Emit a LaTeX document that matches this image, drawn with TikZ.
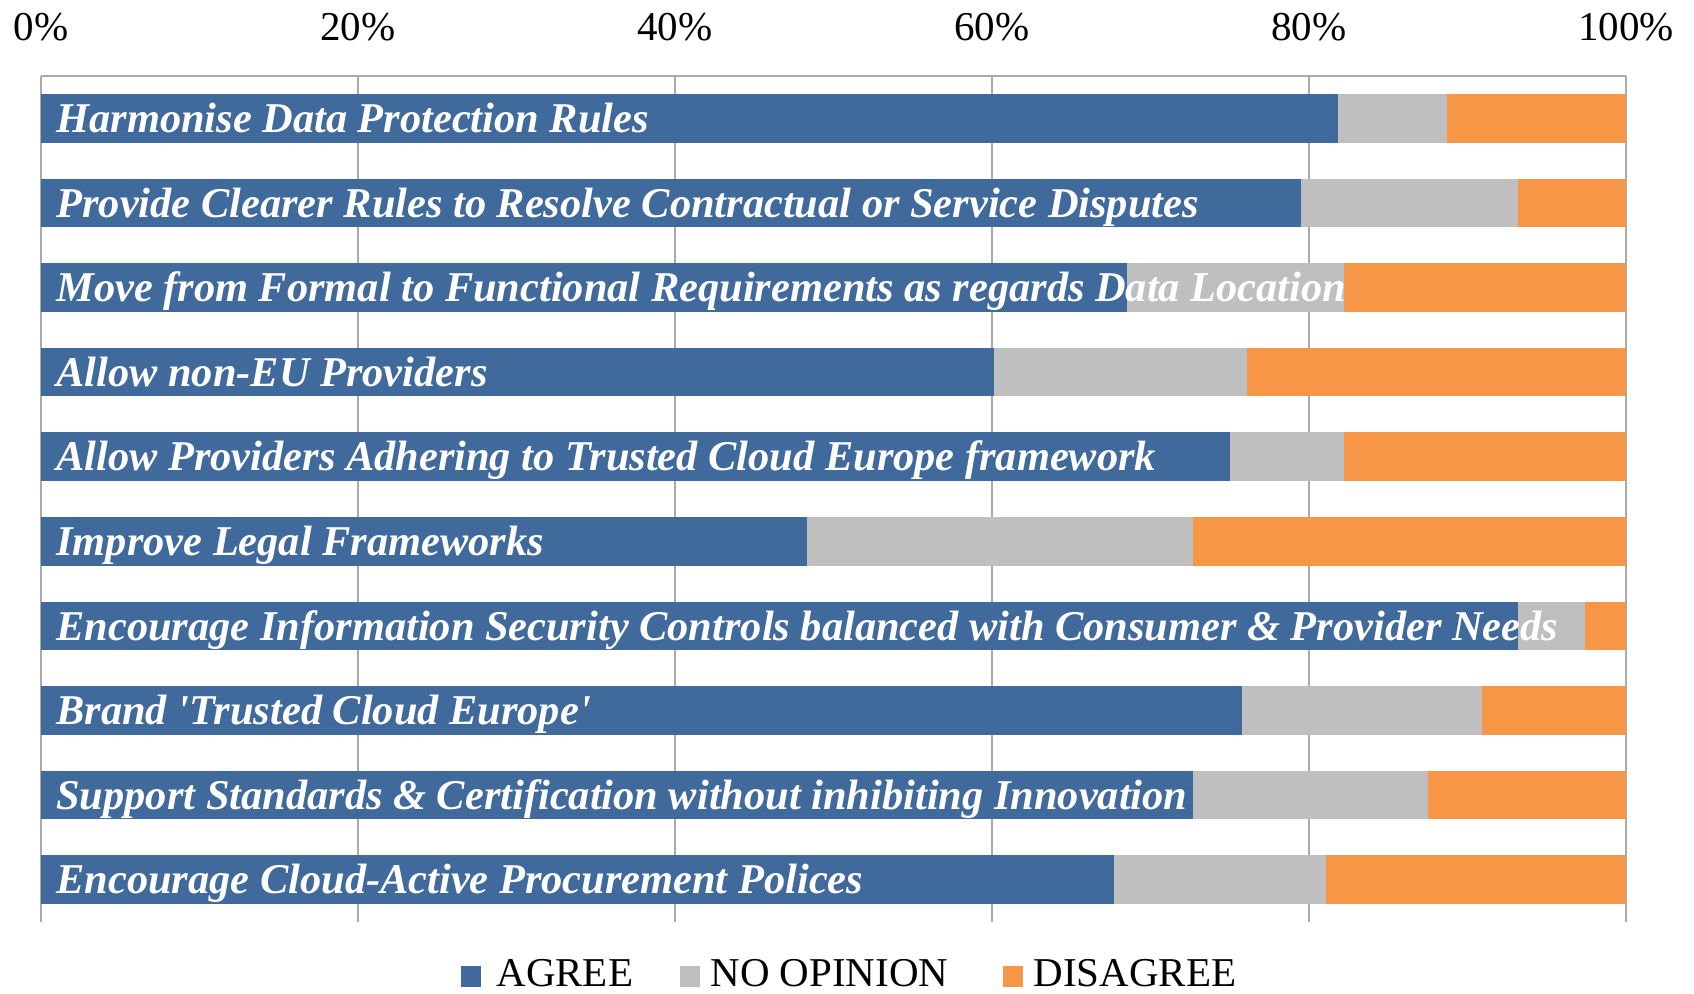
\documentclass[tikz,border=0pt]{standalone}
\usepackage{fontspec}
\setmainfont{Liberation Serif}
\definecolor{agree}{RGB}{65,106,156}
\definecolor{noop}{RGB}{191,191,191}
\definecolor{disag}{RGB}{247,150,70}
\definecolor{gridc}{RGB}{170,170,170}
\begin{document}
\begin{tikzpicture}[x=0.5pt,y=-0.5pt,
  ticklab/.style={inner sep=0pt,anchor=base,font=\fontsize{20.5pt}{24pt}\selectfont},
  leglab/.style={inner sep=0pt,anchor=base west,font=\fontsize{20.5pt}{24pt}\selectfont},
  barlab/.style={inner sep=0pt,anchor=base west,text=white,font=\fontsize{21.2pt}{25pt}\selectfont\bfseries\itshape},
  gridline/.style={draw=gridc,line width=0.7pt}]
\useasboundingbox[fill=white] (0,0) rectangle (1694,993);
% grid
\foreach \k in {0,...,5}{
  \coordinate (gt\k) at ({41+317*\k},76);
  \coordinate (gb\k) at ({41+317*\k},922);
  \draw[gridline] (gt\k) -- (gb\k);
  \pgfmathtruncatemacro\pc{20*\k}
  \node[ticklab] (tick\k) at ({41+317*\k},40) {\pc\%};
}
\draw[gridline] (gt0) -- (gt5);
% bars
\foreach \i/\a/\b/\lab in {
 1/81.8/88.7/{Harmonise Data Protection Rules},
 2/79.5/93.2/{Provide Clearer Rules to Resolve Contractual or Service Disputes},
 3/68.5/82.2/{Move from Formal to Functional Requirements as regards Data Location},
 4/60.1/76.1/{Allow non-EU Providers},
 5/75.0/82.2/{Allow Providers Adhering to Trusted Cloud Europe framework},
 6/48.3/72.7/{Improve Legal Frameworks},
 7/93.2/97.4/{Encourage Information Security Controls balanced with Consumer \& Provider Needs},
 8/75.8/90.9/{Brand \textquotesingle Trusted Cloud Europe\textquotesingle},
 9/72.7/87.5/{Support Standards \& Certification without inhibiting Innovation},
 10/67.7/81.1/{Encourage Cloud-Active Procurement Polices}}{
  \pgfmathsetmacro\ytop{94+84.6*(\i-1)}
  \pgfmathsetmacro\ybot{\ytop+48.5}
  \pgfmathsetmacro\xa{41+15.85*\a}
  \pgfmathsetmacro\xb{41+15.85*\b}
  \fill[agree] (41,\ytop) rectangle (\xa,\ybot);
  \fill[noop] (\xa,\ytop) rectangle (\xb,\ybot);
  \fill[disag] (\xb,\ytop) rectangle (1626,\ybot);
  \node[barlab] (lab\i) at (56,{\ytop+38.5}) {\lab};
}
% legend
\fill[agree] (461,966) rectangle (481,987);
\node[leglab] (legA) at (496,986) {AGREE};
\fill[noop] (680,966) rectangle (700,987);
\node[leglab] (legN) at (710,986) {NO OPINION};
\fill[disag] (1003,966) rectangle (1023,987);
\node[leglab] (legD) at (1033,986) {DISAGREE};
\end{tikzpicture}
\end{document}
